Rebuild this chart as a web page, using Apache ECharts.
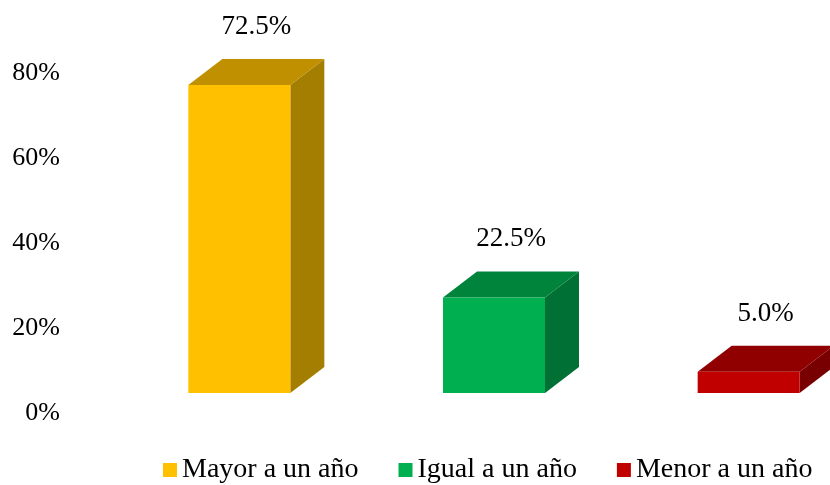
<!DOCTYPE html>
<html>
<head>
<meta charset="utf-8">
<script src="https://cdn.jsdelivr.net/npm/echarts@6/dist/echarts.min.js"></script>
<style>
html, body { margin: 0; padding: 0; background: #fff; }
#main { width: 830px; height: 485px; }
</style>
</head>
<body>
<div id="main"></div>
<script>
var categories = ['Mayor a un año', 'Igual a un año', 'Menor a un año'];
var values = [72.5, 22.5, 5.0];
var frontColors = ['#FFC000', '#00B050', '#C00000'];
var topColors = ['#C09000', '#00843C', '#900000'];
var sideColors = ['#A47E00', '#007034', '#780000'];

var FONT = "'Liberation Serif', 'Times New Roman', serif";
var HALF_W = 51;   // half width of the front face
var DX = 34, DY = -26; // depth of the boxes
var LIFT = 20;     // front face sits above the back wall baseline

function renderBox(params, api) {
    var i = params.seriesIndex;
    var base = api.coord([api.value(0), 0]);
    var head = api.coord([api.value(0), api.value(1)]);
    var cx = base[0];
    var xl = cx - HALF_W, xr = cx + HALF_W;
    var yb = base[1] - LIFT, yt = head[1] - LIFT;
    return {
        type: 'group',
        children: [
            {
                type: 'polygon',
                shape: { points: [[xr, yt], [xr + DX, yt + DY], [xr + DX, yb + DY], [xr, yb]] },
                style: { fill: sideColors[i] }
            },
            {
                type: 'polygon',
                shape: { points: [[xl, yt], [xr, yt], [xr + DX, yt + DY], [xl + DX, yt + DY]] },
                style: { fill: topColors[i] }
            },
            {
                type: 'rect',
                shape: { x: xl, y: yt, width: xr - xl, height: yb - yt },
                style: { fill: frontColors[i] }
            },
            {
                type: 'text',
                style: {
                    x: cx + DX / 2,
                    y: yt + DY - 32,
                    text: values[i].toFixed(1) + '%',
                    fill: '#000',
                    font: '27px ' + FONT,
                    align: 'center',
                    verticalAlign: 'middle'
                }
            }
        ]
    };
}

var series = categories.map(function (name, i) {
    return {
        name: name,
        type: 'custom',
        renderItem: renderBox,
        itemStyle: { color: frontColors[i] },
        encode: { x: 0, y: 1 },
        data: [[i, values[i]]]
    };
});

var chart = echarts.init(document.getElementById('main'));
chart.setOption({
    animation: false,
    grid: { left: 112, width: 764, top: 73, height: 340, containLabel: false, outerBoundsMode: 'none' },
    legend: {
        data: categories,
        left: 163,
        top: 456,
        padding: 0,
        icon: 'rect',
        itemWidth: 14,
        itemHeight: 14,
        itemGap: 40,
        textStyle: { fontSize: 28, fontFamily: FONT, color: '#000' }
    },
    xAxis: {
        type: 'category',
        data: categories,
        show: false
    },
    yAxis: {
        type: 'value',
        min: 0,
        max: 80,
        interval: 20,
        axisLine: { show: false },
        axisTick: { show: false },
        splitLine: { show: false },
        axisLabel: {
            formatter: '{value}%',
            margin: 52,
            fontSize: 26,
            fontFamily: FONT,
            color: '#000'
        }
    },
    series: series
});
</script>
</body>
</html>
